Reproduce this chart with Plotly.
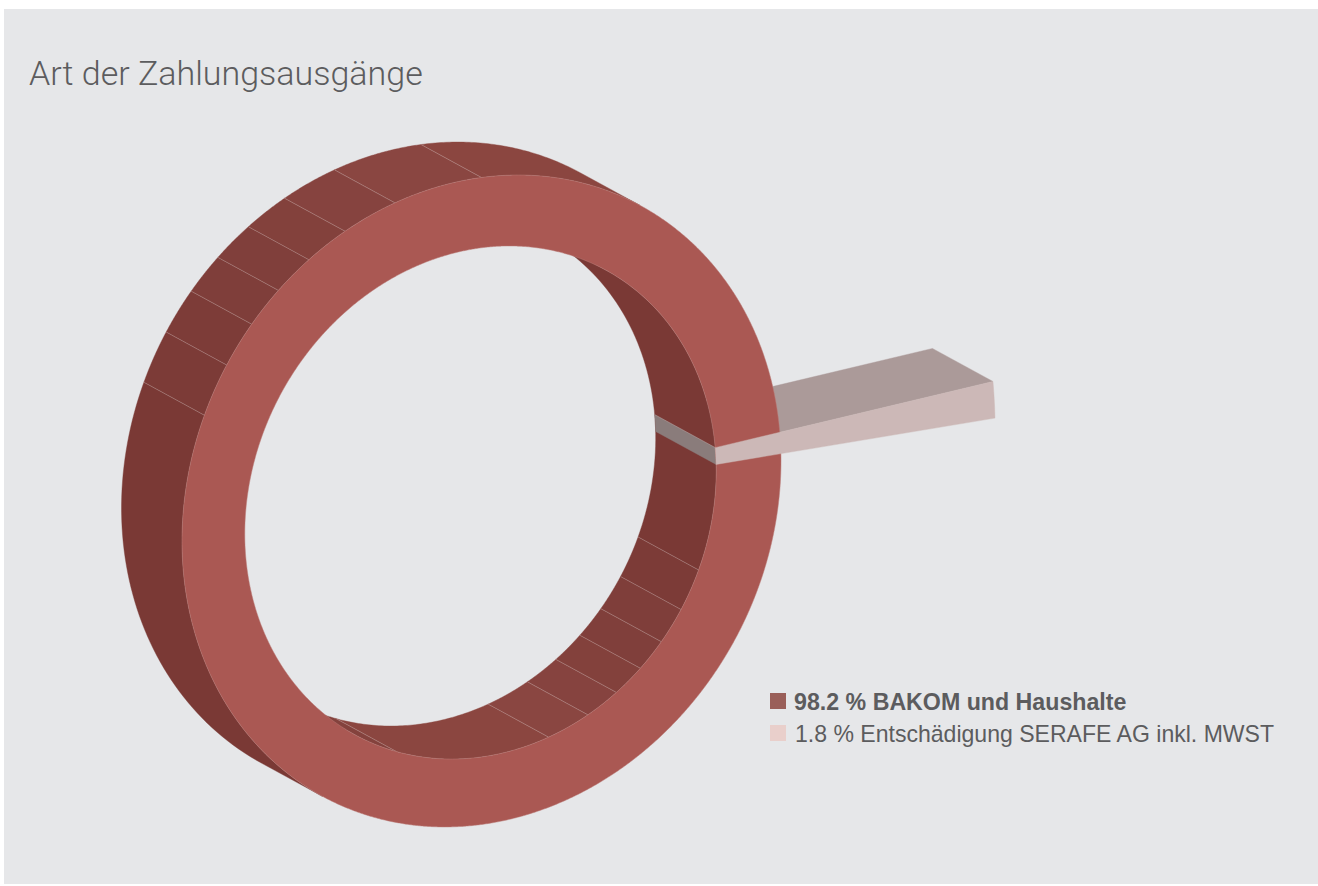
import numpy as np
import plotly.graph_objects as go

# ---- data ----
categories = ["BAKOM und Haushalte", "Entschädigung SERAFE AG inkl. MWST"]
shares = [98.2, 1.8]
title_text = "Art der Zahlungsausgänge"

# facet boundaries of the ring walls (degrees round the ring)
outer_wall_breaks = [90, 106.8, 117.1, 125.2, 132.7, 140.1, 148.3, 157.7]
outer_wall_colors = ["#8b4640", "#8a4641", "#86433f", "#83413c", "#803f3b", "#7f3e3a", "#7d3c38", "#7c3b37", "#7a3935"]
inner_wall_breaks = [-110.9, -73.2, -62.9, -54.8, -47.3, -39.9, -31.7, -22.3]
inner_wall_colors = ["#84423d", "#8b4640", "#8a4641", "#86433f", "#83413c", "#803f3b", "#7f3e3a", "#7c3b37", "#7a3935"]

# ---- view constants ----
W, H = 1318, 886
CX, CY = 481.5, 501.0
AX, SKEW, AY = 299.5, 40.0, 323.5
R_IN = 0.787
R_OUT = 1.0
R_WEDGE = 1.715
IN_SHIFT = (-1.0, 1.5)
DEPTH = np.array([-60.5, -33.0])
TAN_TOP = 58.0
WEDGE_TOP = 5.3
WEDGE_SCALE = 0.59  # foreshortening of the view at that side of the ring

RING = "#aa5853"
PANEL = "#e6e7e9"
WEDGE_FRONT = "#ccb8b7"
WEDGE_SIDE = "#ab9a99"
WEDGE_INNER = "#8a7c7b"
EDGE = "rgba(255,255,255,0.28)"
TEXT = "#5c5c5e"


def pts(r, t_deg, back=False):
    t = np.radians(np.atleast_1d(np.asarray(t_deg, dtype=float)))
    x = CX + r * AX * np.cos(t)
    y = CY - r * (SKEW * np.cos(t) + AY * np.sin(t))
    if r == R_IN:
        x = x + IN_SHIFT[0]
        y = y + IN_SHIFT[1]
    if back:
        x = x + DEPTH[0]
        y = y + DEPTH[1]
    return x, y


def poly(x, y, color, line=None, width=0.6):
    return go.Scatter(
        x=np.append(x, x[0]), y=np.append(y, y[0]), mode="lines", fill="toself",
        fillcolor=color,
        line=dict(color=line or color, width=width if line else 0.4, simplify=False),
        hoverinfo="skip", showlegend=False)


def wall(r, edges, colors):
    out = []
    for a, b, c in zip(edges[:-1], edges[1:], colors):
        t = np.linspace(a, b, 60)
        fx, fy = pts(r, t)
        bx, by = pts(r, t, back=True)
        out.append(poly(np.r_[fx, bx[::-1]], np.r_[fy, by[::-1]], c))
    return out


def seg_lines(r, angles):
    xs, ys = [], []
    for a in angles:
        fx, fy = pts(r, a)
        bx, by = pts(r, a, back=True)
        xs += [bx[0], fx[0], None]
        ys += [by[0], fy[0], None]
    return go.Scatter(x=xs, y=ys, mode="lines", line=dict(color=EDGE, width=0.8),
                      hoverinfo="skip", showlegend=False)


wedge_low = WEDGE_TOP - shares[1] * 3.6 * WEDGE_SCALE
traces = []

# side of the pulled-out slice
ix, iy = pts(R_IN, WEDGE_TOP)
ox, oy = pts(R_WEDGE, WEDGE_TOP)
bix, biy = pts(R_IN, WEDGE_TOP, back=True)
box, boy = pts(R_WEDGE, WEDGE_TOP, back=True)
traces.append(poly(np.r_[ix, ox, box, bix], np.r_[iy, oy, boy, biy], WEDGE_SIDE))

# ring walls
outer_edges = [TAN_TOP] + outer_wall_breaks + [TAN_TOP + 180]
traces += wall(R_OUT, outer_edges, outer_wall_colors)
traces.append(seg_lines(R_OUT, outer_wall_breaks))
inner_edges = [TAN_TOP - 180] + inner_wall_breaks + [TAN_TOP]
traces += wall(R_IN, inner_edges, inner_wall_colors + [inner_wall_colors[-1]])
traces.append(seg_lines(R_IN, inner_wall_breaks))

# inner face of the pulled-out slice
t = np.linspace(WEDGE_TOP, wedge_low, 8)
fx, fy = pts(R_IN, t)
bx, by = pts(R_IN, t, back=True)
traces.append(poly(np.r_[fx, bx[::-1]], np.r_[fy, by[::-1]], WEDGE_INNER))
traces.append(seg_lines(R_IN, [WEDGE_TOP]))

# front of the ring, drawn from the large share
start = wedge_low + shares[1] * 3.6 * WEDGE_SCALE / 2
t = start + np.linspace(0, 360, 1441) * (shares[0] + shares[1]) / 100
fx, fy = pts(R_OUT, t)
rx, ry = pts(R_IN, t[::-1])
traces.append(poly(np.r_[fx, rx], np.r_[fy, ry], RING, line="#bb7c78", width=0.5))

# front of the slice
t = np.linspace(wedge_low, WEDGE_TOP, 8)
fx, fy = pts(R_WEDGE, t)
rx, ry = pts(R_IN, t[::-1])
traces.append(poly(np.r_[fx, rx], np.r_[fy, ry], WEDGE_FRONT))

fig = go.Figure(traces)

legend_rows = [
    (701.5, "#9a5f59", f"<b>{shares[0]} % {categories[0]}</b>", 792, 23.2),
    (734, "#e9cfcb", f"{shares[1]} % {categories[1]}", 793, 23.05),
]
shapes = [dict(type="rect", layer="below", x0=4, x1=W, y0=9, y1=884,
               xref="x", yref="y", fillcolor=PANEL, line_width=0)]
annotations = [dict(text=title_text, x=27, y=73, xref="x", yref="y", xanchor="left",
                    yanchor="middle", showarrow=False,
                    font=dict(family="Roboto", weight=300, size=34, color=TEXT))]
for (yy, col, label, tx, fs), sy in zip(legend_rows, [701, 733]):
    shapes.append(dict(type="rect", x0=770, x1=786, y0=sy - 8, y1=sy + 8,
                       xref="x", yref="y", fillcolor=col, line_width=0))
    annotations.append(dict(text=label, x=tx, y=yy, xref="x", yref="y", xanchor="left",
                            yanchor="middle", showarrow=False,
                            font=dict(family="Liberation Sans", size=fs, color=TEXT)))

fig.update_layout(
    width=W, height=H, margin=dict(l=0, r=0, t=0, b=0),
    paper_bgcolor="white", plot_bgcolor="white", showlegend=False,
    xaxis=dict(range=[0, W], visible=False, fixedrange=True),
    yaxis=dict(range=[H, 0], visible=False, fixedrange=True),
    shapes=shapes, annotations=annotations,
)
fig.write_html("out.html", config=dict(displayModeBar=False),
               post_script="document.body.style.margin='0';document.body.style.overflow='hidden';")
